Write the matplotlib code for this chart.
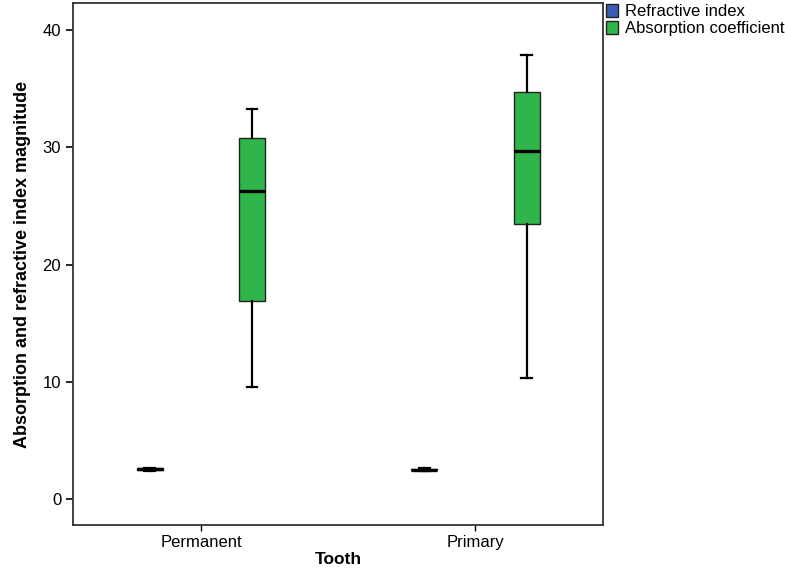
import numpy as np
import matplotlib
matplotlib.use("Agg")
import matplotlib.pyplot as plt
from matplotlib.patches import Patch

plt.rcParams['font.family'] = ['Liberation Sans', 'DejaVu Sans']

#! data
teeth = ["Permanent", "Primary"]
series = ["Refractive index", "Absorption coefficient"]
colors = ["#3a5cb4", "#2fb54a"]

# whisker low, q1, median, q3, whisker high
refr_lo = [2.42, 2.42]
refr_q1 = [2.47, 2.46]
refr_med = [2.55, 2.53]
refr_q3 = [2.63, 2.61]
refr_hi = [2.68, 2.66]

abs_lo = [9.6, 10.3]
abs_q1 = [16.9, 23.5]
abs_med = [26.3, 29.7]
abs_q3 = [30.8, 34.7]
abs_hi = [33.3, 37.9]


def stats(lo, q1, med, q3, hi):
    res = []
    for i in range(len(lo)):
        res.append(dict(whislo=lo[i], q1=q1[i], med=med[i], q3=q3[i],
                        whishi=hi[i], fliers=[]))
    return res


def main():
    fig = plt.figure(figsize=(7.85, 5.68), dpi=100)
    ax = fig.add_axes([0.093, 0.0757, 0.675, 0.919])

    x = np.arange(len(teeth))
    off = 0.186
    w = 0.095
    groups = [stats(refr_lo, refr_q1, refr_med, refr_q3, refr_hi),
              stats(abs_lo, abs_q1, abs_med, abs_q3, abs_hi)]

    for k, st in enumerate(groups):
        pos = x + (k * 2 - 1) * off
        ax.bxp(st, positions=pos, widths=w, patch_artist=True,
               showfliers=False, manage_ticks=False,
               boxprops=dict(facecolor=colors[k], edgecolor="#222222", linewidth=1.0),
               medianprops=dict(color="black", linewidth=2.4),
               whiskerprops=dict(color="black", linewidth=1.6),
               capprops=dict(color="black", linewidth=1.6),
               capwidths=w * 0.42)

    ax.set_xlim(-0.466, 1.464)
    ax.set_ylim(-2.2, 42.3)
    ax.set_xticks(x)
    ax.set_xticklabels(teeth, fontsize=12)
    ax.set_yticks([0, 10, 20, 30, 40])
    ax.tick_params(axis='y', labelsize=12, length=5, width=1.2, color="black")
    ax.tick_params(axis='x', length=4, width=1.0, color="black")
    for s in ax.spines.values():
        s.set_color("#333333")
        s.set_linewidth(1.3)

    ax.set_xlabel("Tooth", fontsize=12.5, fontweight="bold", labelpad=1)
    ax.set_ylabel("Absorption and refractive index magnitude", fontsize=13,
                  fontweight="bold", labelpad=8)

    handles = [Patch(facecolor=colors[i], edgecolor="#222222", label=series[i])
               for i in range(len(series))]
    ax.legend(handles=handles, loc="upper left", bbox_to_anchor=(1.0, 1.005),
              frameon=False, fontsize=12, handlelength=0.7, handleheight=0.85,
              handletextpad=0.4, labelspacing=0.1, borderaxespad=0.1,
              borderpad=0.1)

    fig.savefig("out.png", dpi=100)


if __name__ == "__main__":
    main()
